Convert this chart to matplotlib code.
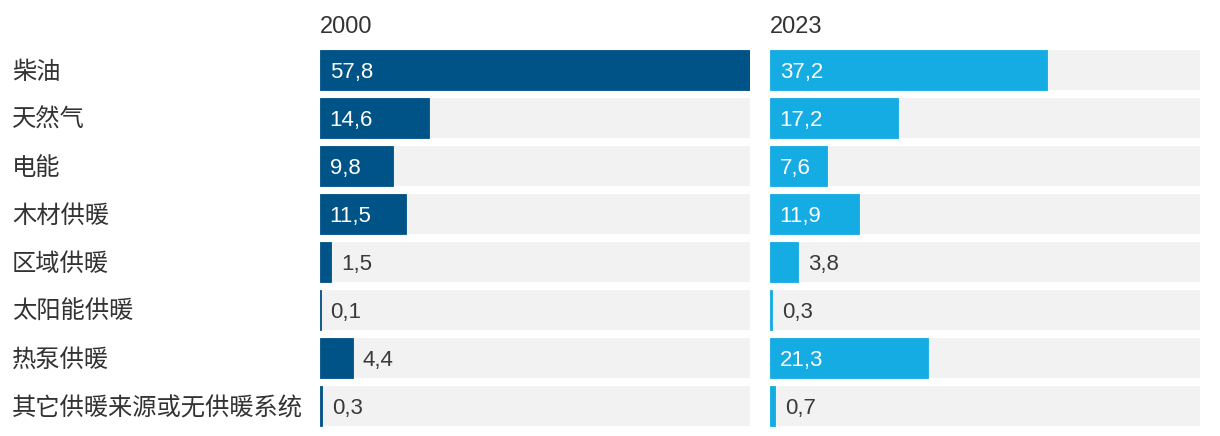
import matplotlib
matplotlib.use("Agg")
import matplotlib.pyplot as plt
from matplotlib.transforms import blended_transform_factory, offset_copy

plt.rcParams['font.family'] = ['Noto Sans CJK SC', 'DejaVu Sans']

categories = ["柴油", "天然气", "电能", "木材供暖", "区域供暖", "太阳能供暖", "热泵供暖", "其它供暖来源或无供暖系统"]
years = ["2000", "2023"]
values_2000 = [57.8, 14.6, 9.8, 11.5, 1.5, 0.1, 4.4, 0.3]
values_2023 = [37.2, 17.2, 7.6, 11.9, 3.8, 0.3, 21.3, 0.7]

colors = ["#005387", "#14ACE2"]
bg_color = "#F2F2F2"
text_color = "#333333"
num_font = "Liberation Sans"

W, H = 1220, 436
fig = plt.figure(figsize=(W / 100, H / 100), dpi=100)

full = max(values_2000 + values_2023)
px_per_unit = 430 / full

panels = [(320, values_2000), (770, values_2023)]
axes = []
for i, (x0, vals) in enumerate(panels):
    ax = fig.add_axes([x0 / W, (H - 430) / H, 430 / W, 384 / H])
    ax.set_xlim(0, full)
    ax.set_ylim(len(categories) - 0.5, -0.5)
    ax.axis("off")
    ys = range(len(categories))
    ax.barh(ys, [full] * len(vals), height=40 / 48, color=bg_color, linewidth=0)
    ax.barh(ys, vals, height=40 / 48, color=colors[i], edgecolor=colors[i], linewidth=0.6)
    for y, v in zip(ys, vals):
        label = f"{v:.1f}".replace(".", ",")
        if v * px_per_unit > 45:
            ax.annotate(label, (0, y), xytext=(7, -1.5), textcoords="offset points",
                        va="center", ha="left", fontsize=16, color="white",
                        family=num_font)
        else:
            ax.annotate(label, (v, y), xytext=(7, -1.5), textcoords="offset points",
                        va="center", ha="left", fontsize=16, color="#3a3a3a",
                        family=num_font)
    fig.text(x0 / W, 1 - 27 / H, years[i], ha="left", va="center", fontsize=17,
             color=text_color, family=num_font)
    axes.append(ax)

trans = blended_transform_factory(fig.transFigure, axes[0].transData)
trans = offset_copy(trans, fig=fig, y=-2, units="dots")
for y, cat in enumerate(categories):
    fig.text(12 / W, y, cat, transform=trans, ha="left", va="center",
             fontsize=17.5, color=text_color)

fig.savefig("out.png", dpi=100)
